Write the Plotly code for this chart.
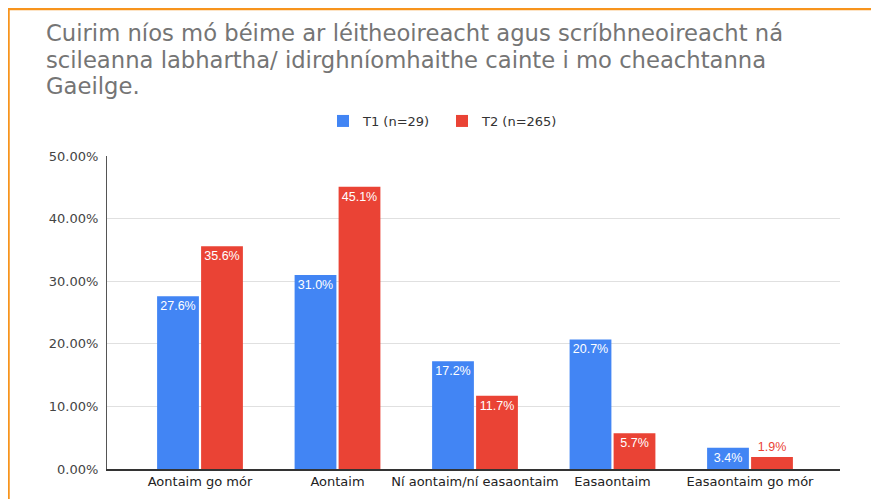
import plotly.graph_objects as go

categories = ["Aontaim go mór", "Aontaim", "Ní aontaim/ní easaontaim", "Easaontaim", "Easaontaim go mór"]
t1_values = [27.6, 31.0, 17.2, 20.7, 3.4]
t2_values = [35.6, 45.1, 11.7, 5.7, 1.9]
series_names = ["T1 (n=29)", "T2 (n=265)"]
y_ticks = [0, 0.1, 0.2, 0.3, 0.4, 0.5]
title_lines = [
    "Cuirim níos mó béime ar léitheoireacht agus scríbhneoireacht ná",
    "scileanna labhartha/ idirghníomhaithe cainte i mo cheachtanna",
    "Gaeilge.",
]

# the page body adds an 8px offset; work in figure coordinates
OFF = 8
W, H = 879, 499
L, R, T, B = 107 - OFF, 840 - OFF, 156 - OFF, 469 - OFF

BLUE = "#4285F4"
RED = "#EA4335"
FONT = "DejaVu Sans, Arial, sans-serif"
LABEL_FONT = "Liberation Sans, Arial, sans-serif"

def positions(vals, threshold=0.025):
    return ["inside" if v / 100 >= threshold else "outside" for v in vals]

fig = go.Figure()
for name, vals, col in [(series_names[0], t1_values, BLUE), (series_names[1], t2_values, RED)]:
    fig.add_trace(go.Bar(
        x=categories, y=[v / 100 for v in vals], name=name,
        marker=dict(color=col, line=dict(width=0)),
        text=[f"{v:.1f}%" for v in vals],
        textposition=positions(vals),
        insidetextanchor="end",
        insidetextfont=dict(color="white", size=12.5, family=LABEL_FONT),
        outsidetextfont=dict(color=col, size=12.5, family=LABEL_FONT),
        textangle=0,
        cliponaxis=False,
    ))

def px(x):
    return (x - L) / (R - L)

def py(y):
    return (B - y) / (B - T)

fig.update_layout(
    width=W, height=H,
    margin=dict(l=L, r=W - R, t=T, b=H - B, pad=0),
    paper_bgcolor="white", plot_bgcolor="white",
    barmode="group", bargap=0.36, bargroupgap=0.05,
    font=dict(family=FONT, size=13, color="#444444"),
    legend=dict(orientation="h", x=px(335 - 20), xanchor="left",
                y=py(113), yanchor="middle", entrywidth=74,
                font=dict(size=13, color="#333333"), itemwidth=30, traceorder="normal"),
    showlegend=True,
)

title_mid = [25, 52, 78]
for line, ym in zip(title_lines, title_mid):
    fig.add_annotation(text=line, xref="paper", yref="paper", x=px(36), y=py(ym),
                       xanchor="left", yanchor="middle", showarrow=False,
                       font=dict(size=22.7, color="#757575", family=FONT))

fig.update_xaxes(
    range=[(L - 192) / 137.5, (R - 192) / 137.5],
    showline=True, linecolor="#333333", linewidth=1.5,
    ticks="", tickfont=dict(size=13, color="#222222"),
)
fig.update_yaxes(
    range=[0, 0.5], tickvals=y_ticks, tickformat=".2%",
    showgrid=True, gridcolor="#e0e0e0", gridwidth=1,
    showline=True, linecolor="#555555", linewidth=1,
    zeroline=False, ticks="", ticklabelstandoff=5,
    tickfont=dict(size=13, color="#444444"),
)

ORANGE = "#F7941D"
fig.add_shape(type="line", xref="paper", yref="paper", x0=px(0), x1=px(W), y0=py(1), y1=py(1),
              line=dict(color=ORANGE, width=2.5), layer="above")
fig.add_shape(type="line", xref="paper", yref="paper", x0=px(0.5), x1=px(0.5), y0=py(1), y1=py(H),
              line=dict(color=ORANGE, width=2.5), layer="above")

fig.write_html("out.html")
